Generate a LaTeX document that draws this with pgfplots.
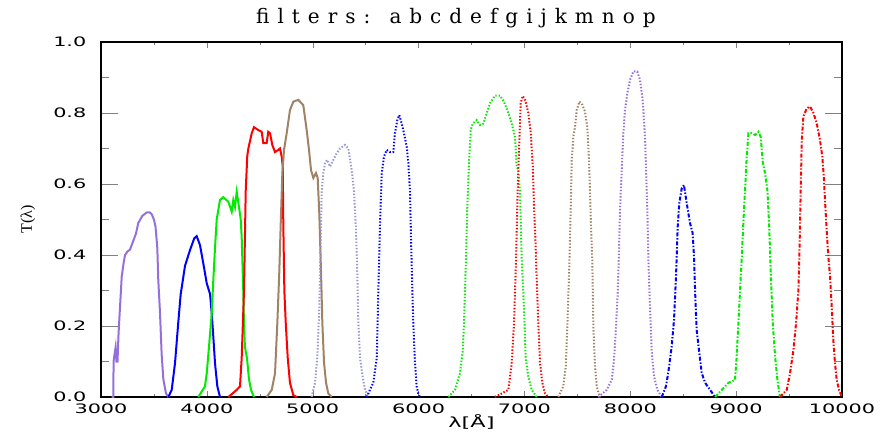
\documentclass[border=0pt]{standalone}
\usepackage{fontspec}
\usepackage{pgfplots}
\pgfplotsset{compat=1.18}
\setmainfont{Liberation Serif}
\newfontfamily\tickfont{DejaVu Sans}[FakeStretch=1.6]
\newfontfamily\titlefont{DejaVu Serif}[LetterSpace=40]

\definecolor{cpurple}{RGB}{147,112,219}
\definecolor{cblue}{RGB}{0,0,255}
\definecolor{cgreen}{RGB}{0,235,0}
\definecolor{cred}{RGB}{255,0,0}
\definecolor{cbrown}{RGB}{160,130,100}
\definecolor{clav}{RGB}{150,150,210}

\tikzset{
  dots/.style={dash pattern=on 0.7pt off 0.9pt},
  dashdot/.style={dash pattern=on 2pt off 0.9pt on 0.7pt off 0.9pt},
}

\begin{document}
\begin{tikzpicture}
\path[use as bounding box] (-50.5pt,-18.5pt) rectangle (395.5pt,198.5pt);
\begin{axis}[
  at={(0,0)}, anchor=south west,
  scale only axis, width=370.5pt, height=177.5pt,
  xmin=3000, xmax=10000, ymin=0, ymax=1,
  xtick={3000,4000,...,10000}, minor x tick num=1,
  ytick={0,0.2,...,1.0}, minor y tick num=1,
  scaled x ticks=false, scaled y ticks=false,
  tick align=inside,
  every x tick/.append style={/pgfplots/major tick length=3pt, /pgfplots/minor tick length=1.5pt},
  every y tick/.append style={/pgfplots/major tick length=8.5pt, /pgfplots/minor tick length=4pt},
  axis line style={line width=0.8pt},
  /pgf/number format/assume math mode=true,
  /pgf/number format/1000 sep={},
  yticklabel style={/pgf/number format/fixed, /pgf/number format/fixed zerofill,
                    /pgf/number format/precision=1, anchor=east, xshift=-3.8pt},
  xticklabel style={anchor=base, yshift=-8pt},
  tick label style={font=\tickfont\fontsize{6.5}{7}\selectfont},
  title={\titlefont\fontsize{10}{12}\selectfont filters: abcdefgijkmnop},
  every axis title/.style={at={(axis description cs:0.479,1.0535)}, anchor=base},
  xlabel={\tickfont\fontsize{7}{8}\selectfont λ[Å]},
  xlabel style={at={(axis description cs:0.5,-0.0845)}, anchor=base},
  ylabel={\fontsize{8}{9}\selectfont T(λ)},
  ylabel style={at={(axis description cs:-0.0985,0.5)}, anchor=center},
  no markers,
  every axis plot/.append style={line width=1pt},
]
% a
\addplot[cpurple] coordinates {
(3100,0) (3116,0) (3119,0.10) (3128,0.12) (3138,0.14) (3146,0.10) (3156,0.10)
(3166,0.18) (3179,0.25) (3196,0.34) (3215,0.38) (3227,0.40) (3250,0.41)
(3274,0.415) (3305,0.44) (3330,0.46) (3352,0.49) (3390,0.51) (3432,0.52)
(3460,0.52) (3479,0.515) (3500,0.50) (3515,0.48) (3532,0.42) (3541,0.33)
(3557,0.24) (3573,0.12) (3589,0.05) (3614,0.01) (3636,0)
};
% b
\addplot[cblue] coordinates {
(3636,0) (3668,0.02) (3699,0.095) (3730,0.21) (3753,0.29) (3794,0.37)
(3841,0.414) (3881,0.447) (3904,0.453) (3935,0.428) (3966,0.377) (3999,0.32)
(4030,0.29) (4046,0.236) (4061,0.17) (4077,0.095) (4099,0.03) (4124,0)
};
% c
\addplot[cgreen] coordinates {
(3919,0) (3982,0.03) (3999,0.067) (4023,0.152) (4046,0.236) (4061,0.33)
(4077,0.42) (4093,0.50) (4124,0.555) (4155,0.563) (4203,0.55) (4235,0.522)
(4250,0.555) (4266,0.536) (4282,0.578) (4306,0.53) (4320,0.50) (4329,0.45)
(4344,0.30) (4351,0.20) (4360,0.14) (4379,0.11) (4398,0.05) (4417,0.02) (4445,0)
};
% d
\addplot[cred] coordinates {
(4203,0) (4282,0.02) (4313,0.03) (4329,0.11) (4351,0.30) (4367,0.58)
(4382,0.68) (4392,0.70) (4424,0.743) (4445,0.76) (4486,0.752) (4518,0.747)
(4533,0.715) (4565,0.715) (4580,0.747) (4597,0.743) (4618,0.71) (4644,0.69)
(4675,0.696) (4691,0.70) (4707,0.677) (4717,0.649) (4722,0.49) (4732,0.30)
(4745,0.21) (4764,0.11) (4785,0.04) (4817,0.005) (4849,0)
};
% e
\addplot[cbrown] coordinates {
(4565,0) (4613,0.02) (4644,0.067) (4666,0.21) (4684,0.35) (4698,0.49)
(4713,0.63) (4729,0.696) (4754,0.743) (4785,0.808) (4817,0.832) (4864,0.837)
(4911,0.822) (4943,0.752) (4965,0.696) (4984,0.639) (5006,0.617) (5031,0.631)
(5047,0.617) (5062,0.518) (5078,0.358) (5091,0.208) (5107,0.096) (5126,0.04)
(5147,0.01) (5179,0)
};
% f
\addplot[clav, dots] coordinates {
(4990,0) (5022,0.04) (5043,0.11) (5062,0.25) (5075,0.44) (5085,0.58)
(5100,0.63) (5116,0.66) (5138,0.668) (5163,0.649) (5190,0.665) (5227,0.687)
(5258,0.70) (5305,0.71) (5336,0.70) (5368,0.64) (5390,0.58) (5409,0.47)
(5421,0.35) (5431,0.21) (5447,0.11) (5472,0.056) (5494,0.02) (5525,0)
};
% g
\addplot[cblue, dots] coordinates {
(5510,0) (5572,0.04) (5605,0.11) (5620,0.30) (5636,0.49) (5652,0.63)
(5673,0.677) (5699,0.696) (5730,0.69) (5761,0.69) (5777,0.743) (5799,0.78)
(5818,0.794) (5841,0.77) (5862,0.743) (5888,0.705) (5903,0.66) (5919,0.58)
(5929,0.44) (5941,0.30) (5950,0.21) (5966,0.096) (5982,0.03) (5997,0.01) (6013,0)
};
% i
\addplot[cgreen, dots] coordinates {
(6281,0) (6344,0.02) (6391,0.067) (6417,0.13) (6429,0.21) (6448,0.39)
(6460,0.535) (6479,0.677) (6493,0.752) (6512,0.77) (6549,0.78) (6580,0.766)
(6612,0.77) (6644,0.80) (6675,0.828) (6722,0.849) (6769,0.849) (6807,0.832)
(6848,0.80) (6880,0.77) (6911,0.733) (6927,0.649) (6942,0.64) (6958,0.58)
(6974,0.39) (6996,0.25) (7012,0.11) (7037,0.056) (7069,0.02) (7116,0)
};
% j
\addplot[cred, dots] coordinates {
(6722,0) (6848,0.02) (6880,0.096) (6902,0.21) (6921,0.39) (6936,0.58)
(6952,0.724) (6965,0.828) (6984,0.848) (7006,0.837) (7037,0.80) (7060,0.743)
(7079,0.649) (7091,0.535) (7104,0.44) (7116,0.33) (7131,0.21) (7147,0.096)
(7169,0.04) (7194,0.01) (7225,0)
};
% k
\addplot[cbrown, dots] coordinates {
(7320,0) (7367,0.03) (7390,0.085) (7405,0.198) (7424,0.367) (7437,0.527)
(7447,0.668) (7462,0.733) (7478,0.761) (7494,0.808) (7518,0.832) (7541,0.827)
(7572,0.804) (7594,0.761) (7610,0.668) (7620,0.574) (7629,0.48) (7641,0.386)
(7651,0.198) (7667,0.085) (7683,0.03) (7707,0.005) (7720,0)
};
% m
\addplot[cpurple, dots] coordinates {
(7698,0) (7777,0.02) (7825,0.048) (7846,0.104) (7865,0.198) (7881,0.29)
(7891,0.386) (7903,0.527) (7919,0.64) (7934,0.743) (7950,0.808) (7972,0.855)
(7997,0.893) (8029,0.917) (8066,0.917) (8092,0.893) (8117,0.837) (8139,0.733)
(8149,0.64) (8161,0.527) (8171,0.386) (8187,0.245) (8203,0.124) (8225,0.057)
(8256,0.02) (8297,0)
};
% n
\addplot[cblue, dashdot] coordinates {
(8297,0) (8337,0.03) (8358,0.067) (8391,0.142) (8413,0.217) (8432,0.34)
(8448,0.48) (8463,0.546) (8486,0.588) (8507,0.597) (8533,0.546) (8564,0.49)
(8589,0.462) (8602,0.395) (8614,0.283) (8627,0.189) (8652,0.124) (8675,0.067)
(8707,0.04) (8754,0.02) (8801,0)
};
% o
\addplot[cgreen, dashdot] coordinates {
(8801,0) (8864,0.02) (8927,0.04) (8989,0.048) (9005,0.114) (9021,0.208)
(9037,0.30) (9053,0.395) (9068,0.49) (9084,0.583) (9100,0.677) (9116,0.743)
(9147,0.743) (9178,0.738) (9210,0.747) (9232,0.733) (9251,0.663) (9273,0.63)
(9295,0.583) (9311,0.49) (9327,0.35) (9346,0.208) (9368,0.114) (9390,0.048)
(9414,0)
};
% p
\addplot[cred, dashdot] coordinates {
(9414,0) (9478,0.02) (9509,0.067) (9540,0.13) (9566,0.208) (9588,0.30)
(9597,0.395) (9610,0.583) (9620,0.724) (9635,0.79) (9667,0.813) (9698,0.818)
(9730,0.80) (9761,0.771) (9792,0.724) (9814,0.677) (9830,0.611) (9839,0.555)
(9855,0.47) (9871,0.395) (9887,0.339) (9903,0.254) (9918,0.16) (9934,0.095)
(9950,0.048) (9972,0.02) (9998,0)
};
\end{axis}
\end{tikzpicture}
\end{document}
